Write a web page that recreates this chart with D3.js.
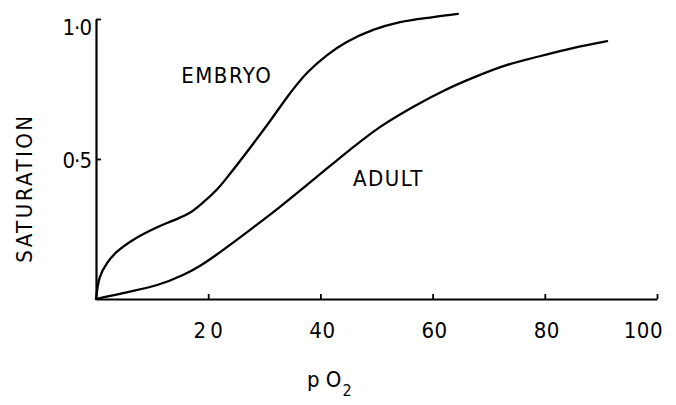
<!DOCTYPE html>
<html>
<head>
<meta charset="utf-8">
<script src="https://cdn.jsdelivr.net/npm/d3@7"></script>
<style>
  html, body { margin: 0; padding: 0; background: #fff; }
  svg text { font-family: "Liberation Sans Narrow", "DejaVu Sans Condensed", "Arial Narrow", sans-serif; fill: #000; }
</style>
</head>
<body>
<svg id="chart" width="676" height="405"></svg>
<script>
// oxygen dissociation curves
const embryoPO2 = [0, 0.7, 2.0, 3.7, 6.6, 10.9, 13.7, 16.5, 19.1, 21.6, 24.0, 26.9, 31.0, 34.6, 37.6, 41.2, 44.7, 49.4, 54.2, 60.1, 64.5]
const embryoSat = [0, 0.079, 0.129, 0.168, 0.211, 0.256, 0.28, 0.305, 0.345, 0.392, 0.45, 0.525, 0.635, 0.735, 0.807, 0.871, 0.918, 0.961, 0.989, 1.007, 1.018]

const adultPO2 = [0, 4.8, 10.9, 15.5, 18.5, 21.6, 28.0, 32.8, 39.3, 45.2, 50.6, 56.5, 62.0, 67.8, 73.3, 79.1, 85.0, 91.1]
const adultSat = [0, 0.021, 0.05, 0.086, 0.118, 0.16, 0.255, 0.329, 0.435, 0.532, 0.614, 0.686, 0.744, 0.795, 0.836, 0.867, 0.896, 0.921]

const xTicks = [20, 40, 60, 80, 100]
const yTicks = [0.5, 1.0]
const yTickLabels = ["0·5", "1·0"]

const curveLabels = [
  {text: "EMBRYO", po2: 15.2, sat: 0.77},
  {text: "ADULT", po2: 45.8, sat: 0.405},
]

const svg = d3.select("#chart")
const x = d3.scaleLinear().domain([0, 100]).range([96, 657])
const y = d3.scaleLinear().domain([0, 1]).range([299, 19])

const zip = (a, b) => a.map((v, i) => [v, b[i]])

const line = d3
  .line()
  .x((d) => x(d[0]))
  .y((d) => y(d[1]))
  .curve(d3.curveCatmullRom.alpha(0.5))

// ticks point inward like the original figure
svg
  .append("g")
  .attr("transform", `translate(0,${y(0)})`)
  .call(d3.axisTop(x).tickValues(xTicks).tickSize(5).tickSizeOuter(0).tickFormat(""))
  .call((g) => g.select(".domain").attr("stroke-width", 2.2))
  .call((g) => g.selectAll(".tick line").attr("stroke-width", 1.8))

svg
  .append("g")
  .selectAll("text")
  .data(xTicks)
  .join("text")
  .attr("x", (d) => (d === 100 ? x(d) + 6 : x(d) + 2))
  .attr("y", y(0) + 39)
  .attr("text-anchor", (d) => (d === 100 ? "end" : "middle"))
  .attr("font-size", 22)
  .attr("letter-spacing", (d) => (d === 20 ? 4 : 0.5))
  .text((d) => d)

svg
  .append("g")
  .attr("transform", `translate(${x(0)},0)`)
  .call(d3.axisRight(y).tickValues(yTicks).tickSize(5).tickSizeOuter(0).tickFormat(""))
  .call((g) => g.select(".domain").attr("stroke-width", 2.2))
  .call((g) => g.selectAll(".tick line").attr("stroke-width", 1.8))

svg
  .append("g")
  .selectAll("text")
  .data(yTicks)
  .join("text")
  .attr("x", x(0) - 5)
  .attr("y", (d) => y(d) + (d === 1 ? 16 : 9))
  .attr("text-anchor", "end")
  .attr("font-size", 22)
  .attr("letter-spacing", -1)
  .text((d, i) => yTickLabels[i])

svg
  .append("g")
  .selectAll("path")
  .data([zip(embryoPO2, embryoSat), zip(adultPO2, adultSat)])
  .join("path")
  .attr("fill", "none")
  .attr("stroke", "#000")
  .attr("stroke-width", 2.3)
  .attr("stroke-linecap", "round")
  .attr("d", line)

svg
  .append("g")
  .selectAll("text")
  .data(curveLabels)
  .join("text")
  .attr("x", (d) => x(d.po2))
  .attr("y", (d) => y(d.sat))
  .attr("font-size", 22)
  .attr("letter-spacing", 1.5)
  .text((d) => d.text)

svg
  .append("text")
  .attr("transform", `translate(32,188) rotate(-90)`)
  .attr("text-anchor", "middle")
  .attr("font-size", 22)
  .attr("letter-spacing", 2.5)
  .text("SATURATION")

const xTitle = svg
  .append("text")
  .attr("x", 307)
  .attr("y", 387)
  .attr("font-size", 22)
xTitle.append("tspan").text("p O")
xTitle.append("tspan").attr("font-size", 16).attr("dy", 9).attr("dx", 1).text("2")
</script>
</body>
</html>
